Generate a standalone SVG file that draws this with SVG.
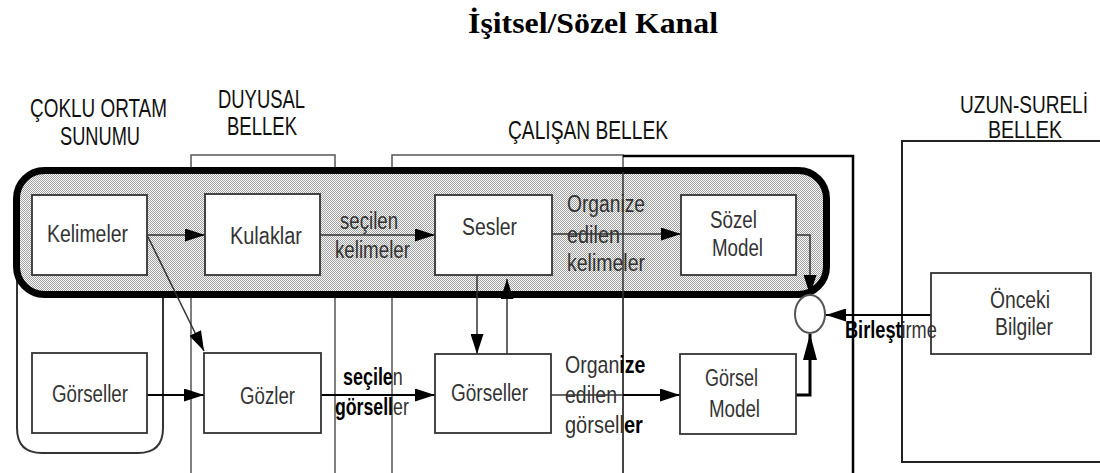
<svg xmlns="http://www.w3.org/2000/svg" width="1100" height="473" viewBox="0 0 1100 473">
<style>
.hdr{font-family:"Liberation Sans",Arial,sans-serif;font-size:25px;fill:#111}
.hdr2{font-family:"Liberation Sans",Arial,sans-serif;font-size:23px;fill:#111}
.ttl{font-family:"Liberation Serif","Times New Roman",serif;font-size:29px;font-weight:bold;fill:#000}
.nt{font-family:"Liberation Sans",Arial,sans-serif;font-size:23px;fill:#333}
.lb{font-family:"Liberation Sans",Arial,sans-serif;font-size:23px;fill:#333}
.b{font-weight:bold;fill:#000}
.node{fill:#fff;stroke:#333;stroke-width:1.8}
.col{fill:#fff;stroke:#555;stroke-width:1.5}
.ln{fill:none;stroke:#333;stroke-width:1.5}
.lnb{fill:none;stroke:#000;stroke-width:2.2}
</style>
<defs>
<pattern id="dots" width="2" height="2" patternUnits="userSpaceOnUse">
<rect width="2" height="2" fill="#fbfbfb"/>
<rect x="0" y="0" width="1" height="1" fill="#a0a0a0"/>
<rect x="1" y="1" width="1" height="1" fill="#a0a0a0"/>
</pattern>
<marker id="ah" viewBox="0 0 10 10" refX="10" refY="5" markerUnits="userSpaceOnUse" markerWidth="20" markerHeight="13" orient="auto" preserveAspectRatio="none">
<path d="M0,0 L10,5 L0,10 z" fill="#000"/>
</marker>
<marker id="ahL" viewBox="0 0 10 10" refX="10" refY="5" markerUnits="userSpaceOnUse" markerWidth="26" markerHeight="14" orient="auto" preserveAspectRatio="none">
<path d="M0,0 L10,5 L0,10 z" fill="#000"/>
</marker>
</defs>
<rect width="1100" height="473" fill="#fff"/>

<text class="ttl" x="593" y="33" text-anchor="middle" textLength="250" lengthAdjust="spacingAndGlyphs">İşitsel/Sözel Kanal</text>

<g id="headers">
<text class="hdr" x="30" y="117" textLength="137" lengthAdjust="spacingAndGlyphs">ÇOKLU ORTAM</text>
<text class="hdr" x="60" y="145" textLength="80" lengthAdjust="spacingAndGlyphs">SUNUMU</text>
<text class="hdr" x="218" y="108" textLength="87" lengthAdjust="spacingAndGlyphs">DUYUSAL</text>
<text class="hdr" x="227" y="135" textLength="70" lengthAdjust="spacingAndGlyphs">BELLEK</text>
<text class="hdr" x="508" y="139" textLength="160" lengthAdjust="spacingAndGlyphs">ÇALIŞAN BELLEK</text>
<text class="hdr2" x="960" y="113" textLength="128" lengthAdjust="spacingAndGlyphs">UZUN-SURELİ</text>
<text class="hdr2" x="988" y="138" textLength="74" lengthAdjust="spacingAndGlyphs">BELLEK</text>
</g>

<g id="regions">
<rect class="col" x="191" y="155" width="144" height="330"/>
<rect class="col" x="392" y="155" width="231" height="330"/>
<path d="M623,156 H853 V480" fill="none" stroke="#000" stroke-width="2.5"/>
<rect x="902" y="141" width="220" height="321" fill="#fff" stroke="#222" stroke-width="2"/>
<path d="M17,200 V428 Q17,453 42,453 H138 Q163,453 163,428 V200" fill="#fff" stroke="#333" stroke-width="2"/>
<rect id="auditory-channel" x="16.5" y="170.5" width="810" height="124" rx="28" fill="url(#dots)" stroke="#000" stroke-width="7"/>
<line x1="623" y1="172" x2="623" y2="480" stroke="#333" stroke-width="1.5"/>
</g>

<g id="connectors">
<path class="ln" d="M147,235 H205" marker-end="url(#ah)"/>
<path class="ln" d="M320,235 H435" marker-end="url(#ah)"/>
<path class="ln" d="M552,234 H681" marker-end="url(#ah)"/>
<path class="ln" d="M796,235 H810 V295" marker-end="url(#ah)"/>
<path class="ln" d="M148,237 L204,351" marker-end="url(#ah)"/>
<path class="lnb" d="M147,395 H204" marker-end="url(#ah)"/>
<path class="lnb" d="M321,395 H435" marker-end="url(#ah)"/>
<path class="ln" d="M551,395 H623"/>
<path class="lnb" d="M623,395 H680" marker-end="url(#ah)"/>
<path class="ln" d="M477,275 V354" marker-end="url(#ah)"/>
<path class="ln" d="M507,354 V279" marker-end="url(#ah)"/>
<path d="M796,395 H810 V334" fill="none" stroke="#000" stroke-width="3" marker-end="url(#ahL)"/>
<path class="lnb" d="M953,315 H826" marker-end="url(#ah)"/>
</g>

<g id="merge">
<ellipse cx="810" cy="314" rx="15" ry="19" fill="#fff" stroke="#555" stroke-width="2"/>
</g>

<g id="kelimeler"><rect class="node" x="32" y="195" width="115" height="80"/><text class="nt" x="47" y="242" textLength="81" lengthAdjust="spacingAndGlyphs">Kelimeler</text></g>
<g id="kulaklar"><rect class="node" x="205" y="194" width="115" height="81"/><text class="nt" x="230" y="244" textLength="72" lengthAdjust="spacingAndGlyphs">Kulaklar</text></g>
<g id="sesler"><rect class="node" x="435" y="195" width="117" height="80"/><text class="nt" x="462" y="235" textLength="55" lengthAdjust="spacingAndGlyphs">Sesler</text></g>
<g id="sozel-model"><rect class="node" x="681" y="195" width="115" height="80"/><text class="nt" x="710" y="228" textLength="47" lengthAdjust="spacingAndGlyphs">Sözel</text><text class="nt" x="712" y="256" textLength="51" lengthAdjust="spacingAndGlyphs">Model</text></g>
<g id="gorseller-1"><rect class="node" x="32" y="353" width="115" height="80"/><text class="nt" x="52" y="402" textLength="76" lengthAdjust="spacingAndGlyphs">Görseller</text></g>
<g id="gozler"><rect class="node" x="204" y="353" width="117" height="80"/><text class="nt" x="240" y="404" textLength="55" lengthAdjust="spacingAndGlyphs">Gözler</text></g>
<g id="gorseller-2"><rect class="node" x="435" y="354" width="116" height="79"/><text class="nt" x="451" y="401" textLength="77" lengthAdjust="spacingAndGlyphs">Görseller</text></g>
<g id="gorsel-model"><rect class="node" x="680" y="354" width="116" height="80"/><text class="nt" x="705" y="386" textLength="53" lengthAdjust="spacingAndGlyphs">Görsel</text><text class="nt" x="709" y="417" textLength="51" lengthAdjust="spacingAndGlyphs">Model</text></g>
<g id="onceki-bilgiler"><rect class="node" x="931" y="273" width="160" height="81"/><text class="nt" x="990" y="308" textLength="60" lengthAdjust="spacingAndGlyphs">Önceki</text><text class="nt" x="995" y="335" textLength="58" lengthAdjust="spacingAndGlyphs">Bilgiler</text></g>

<g id="labels">
<text class="lb" x="340" y="229" textLength="58" lengthAdjust="spacingAndGlyphs">seçilen</text>
<text class="lb" x="335" y="258" textLength="75" lengthAdjust="spacingAndGlyphs">kelimeler</text>
<text class="lb" x="567" y="212" textLength="78" lengthAdjust="spacingAndGlyphs">Organize</text>
<text class="lb" x="567" y="243" textLength="53" lengthAdjust="spacingAndGlyphs">edilen</text>
<text class="lb" x="567" y="271" textLength="78" lengthAdjust="spacingAndGlyphs">kelimeler</text>
<text class="lb" transform="translate(343,385) scale(0.78,1)"><tspan class="b">seçile</tspan>n</text>
<text class="lb" transform="translate(335,415) scale(0.77,1)"><tspan class="b">görsell</tspan>er</text>
<text class="lb" transform="translate(565,373) scale(0.85,1)">Organ<tspan class="b">ize</tspan></text>
<text class="lb" x="565" y="403" textLength="52" lengthAdjust="spacingAndGlyphs">edilen</text>
<text class="lb" transform="translate(565,433) scale(0.87,1)">görsell<tspan class="b">er</tspan></text>
<text class="lb" transform="translate(845,338) scale(0.79,1)"><tspan class="b">Birleşt</tspan>irme</text>
</g>
</svg>
